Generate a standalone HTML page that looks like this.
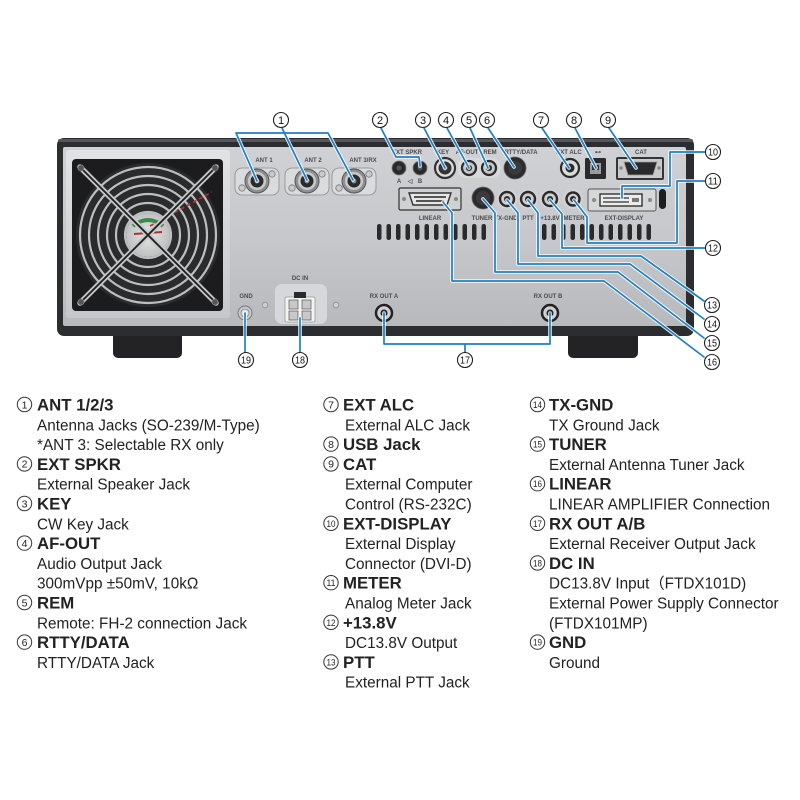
<!DOCTYPE html>
<html><head><meta charset="utf-8"><style>html,body{margin:0;padding:0;background:#fff}svg{display:block}</style></head><body>
<svg width="800" height="800" viewBox="0 0 800 800" xmlns="http://www.w3.org/2000/svg" font-family="'Liberation Sans', Arial, sans-serif">
<defs>
<linearGradient id="panel" x1="0" y1="0" x2="0" y2="1"><stop offset="0" stop-color="#d0d1d4"/><stop offset="0.5" stop-color="#c7c8cb"/><stop offset="1" stop-color="#b8b9bc"/></linearGradient>
<linearGradient id="bevel" x1="0" y1="0" x2="0" y2="1"><stop offset="0" stop-color="#e2e3e5"/><stop offset="1" stop-color="#c6c7ca"/></linearGradient>
<radialGradient id="hub" cx="0.5" cy="0.5" r="0.5"><stop offset="0" stop-color="#e6e6e6"/><stop offset="1" stop-color="#bfc0c0"/></radialGradient>
</defs>
<rect width="800" height="800" fill="#fff"/>

<!-- feet -->
<rect x="113" y="326" width="69" height="32" rx="5" fill="#232325"/>
<rect x="568" y="326" width="70" height="32" rx="5" fill="#232325"/>
<!-- body -->
<rect x="57" y="138" width="637" height="198" rx="7" fill="#2c2d31"/>
<rect x="58" y="139" width="635" height="3" rx="2" fill="#55575c"/>
<rect x="63" y="147" width="623" height="179" rx="2" fill="url(#panel)"/>

<!-- fan -->
<rect x="66" y="150" width="164" height="168" rx="3" fill="url(#bevel)"/>
<rect x="72" y="159" width="151" height="152" rx="4" fill="#1c1c1e"/>
<circle cx="148" cy="235" r="72" fill="#2a2b2d"/>
<g fill="none" stroke="#bdbec0" stroke-width="2.2">
<circle cx="148" cy="235" r="14"/><circle cx="148" cy="235" r="23"/><circle cx="148" cy="235" r="32"/>
<circle cx="148" cy="235" r="41"/><circle cx="148" cy="235" r="50"/><circle cx="148" cy="235" r="59"/>
<circle cx="148" cy="235" r="68"/>
</g>
<circle cx="148" cy="235" r="22" fill="url(#hub)"/>
<path d="M133 226 Q148 214 163 226" stroke="#3a8a4a" stroke-width="4" fill="none"/>
<path d="M134 234 L162 232" stroke="#b03030" stroke-width="2"/>
<line x1="150" y1="226" x2="212" y2="192" stroke="#b03030" stroke-width="1.6" stroke-dasharray="4 3"/>
<g stroke="#c4c5c7" stroke-width="5.5" stroke-linecap="round">
<line x1="80" y1="167" x2="216" y2="303"/><line x1="216" y1="167" x2="80" y2="303"/>
</g>
<g stroke="#1c1c1e" stroke-width="1.8">
<line x1="80" y1="167" x2="216" y2="303"/><line x1="216" y1="167" x2="80" y2="303"/>
</g>
<g fill="#555" stroke="#888" stroke-width="0.8">
<circle cx="81" cy="168" r="3"/><circle cx="215" cy="168" r="3"/><circle cx="81" cy="302" r="3"/><circle cx="215" cy="302" r="3"/>
</g>

<!-- panel labels -->
<g font-size="6" font-weight="bold" fill="#4a4b4e" text-anchor="middle">
<text x="264" y="162">ANT 1</text><text x="313" y="162">ANT 2</text><text x="363" y="162">ANT 3/RX</text>
<text x="407" y="154">EXT SPKR</text><text x="443" y="154">KEY</text><text x="467" y="154">AF-OUT</text>
<text x="490" y="154">REM</text><text x="521" y="154">RTTY/DATA</text><text x="569" y="154">EXT ALC</text>
<text x="598" y="154">⊷</text><text x="641" y="154">CAT</text>
<text x="399" y="183">A</text><text x="410" y="183">◁</text><text x="420" y="183">B</text>
<text x="430" y="220">LINEAR</text><text x="482" y="220">TUNER</text><text x="506" y="220">TX-GND</text>
<text x="528" y="220">PTT</text><text x="550" y="220">+13.8V</text><text x="574" y="220">METER</text>
<text x="624" y="220">EXT-DISPLAY</text>
<text x="300" y="280">DC IN</text><text x="246" y="298">GND</text>
<text x="384" y="298">RX OUT A</text><text x="548" y="298">RX OUT B</text>
</g>

<!-- ANT connectors -->
<g transform="translate(257,181)">
<rect x="-22" y="-13" width="44" height="27" rx="7" fill="#dadbdd" stroke="#8a8b8e" stroke-width="0.8"/>
<circle cx="15" cy="-7" r="3.2" fill="#c9cacc" stroke="#777" stroke-width="0.8"/><circle cx="-15" cy="7" r="3.2" fill="#c9cacc" stroke="#777" stroke-width="0.8"/>
<circle r="12" fill="#8f9093" stroke="#555"/><circle r="9" fill="#c9cacc"/><circle r="6.5" fill="#2b2b2d"/><circle r="2.5" fill="#8a8a78"/>
</g>
<g transform="translate(307,181)">
<rect x="-22" y="-13" width="44" height="27" rx="7" fill="#dadbdd" stroke="#8a8b8e" stroke-width="0.8"/>
<circle cx="15" cy="-7" r="3.2" fill="#c9cacc" stroke="#777" stroke-width="0.8"/><circle cx="-15" cy="7" r="3.2" fill="#c9cacc" stroke="#777" stroke-width="0.8"/>
<circle r="12" fill="#8f9093" stroke="#555"/><circle r="9" fill="#c9cacc"/><circle r="6.5" fill="#2b2b2d"/><circle r="2.5" fill="#8a8a78"/>
</g>
<g transform="translate(354,181)">
<rect x="-22" y="-13" width="44" height="27" rx="7" fill="#dadbdd" stroke="#8a8b8e" stroke-width="0.8"/>
<circle cx="15" cy="-7" r="3.2" fill="#c9cacc" stroke="#777" stroke-width="0.8"/><circle cx="-15" cy="7" r="3.2" fill="#c9cacc" stroke="#777" stroke-width="0.8"/>
<circle r="12" fill="#8f9093" stroke="#555"/><circle r="9" fill="#c9cacc"/><circle r="6.5" fill="#2b2b2d"/><circle r="2.5" fill="#8a8a78"/>
</g>

<!-- row 1 jacks -->
<circle cx="399" cy="168" r="7" fill="#2a2a2c" stroke="#777" stroke-width="0.8"/><circle cx="399" cy="168" r="2.5" fill="#555"/>
<circle cx="420" cy="168" r="7" fill="#2a2a2c" stroke="#777" stroke-width="0.8"/><circle cx="420" cy="168" r="2.5" fill="#555"/>
<circle cx="445" cy="168" r="10" fill="#dcdcdc" stroke="#333" stroke-width="2.2"/><circle cx="445" cy="168" r="6.5" fill="#333"/><circle cx="445" cy="168" r="2.5" fill="#777"/>
<rect x="457" y="158" width="44" height="20" rx="9" fill="#d8d9db"/>
<circle cx="469" cy="168" r="7" fill="#c8c8c8" stroke="#2a2a2a" stroke-width="2.2"/><circle cx="469" cy="168" r="3" fill="#2a2a2a"/>
<circle cx="489" cy="168" r="7" fill="#c8c8c8" stroke="#2a2a2a" stroke-width="2.2"/><circle cx="489" cy="168" r="3" fill="#2a2a2a"/>
<circle cx="515" cy="168" r="11" fill="#2c2c2e" stroke="#666" stroke-width="0.8"/><circle cx="515" cy="168" r="7" fill="#3a3a3c"/>
<circle cx="570" cy="168" r="9" fill="#dcdcdc" stroke="#2a2a2a" stroke-width="2.2"/><circle cx="570" cy="168" r="4.5" fill="#2a2a2a"/>
<rect x="585" y="158" width="21" height="21" rx="1.5" fill="#2a2a2c"/><rect x="590" y="163" width="11" height="11" fill="#9a9b9d"/><rect x="592" y="165" width="7" height="5" fill="#333"/>
<rect x="616" y="157" width="48" height="23" rx="2" fill="#353538"/><rect x="618" y="159" width="44" height="19" fill="#c9cacc"/>
<path d="M624 162 H657 L653 175 H628 Z" fill="#2a2a2c" stroke="#999" stroke-width="0.8"/>
<circle cx="621" cy="168" r="1.8" fill="#888"/><circle cx="659" cy="168" r="1.8" fill="#888"/>

<!-- row 2 -->
<rect x="399" y="188" width="62" height="22" rx="1.5" fill="#d0d1d3" stroke="#333" stroke-width="1.2"/>
<path d="M409 193 H451 L447 205 H413 Z" fill="#e6e6e6" stroke="#333" stroke-width="1.4"/>
<g fill="#555"><rect x="414" y="196" width="32" height="2"/><rect x="416" y="200" width="28" height="2"/></g>
<circle cx="404" cy="199" r="2" fill="#888"/><circle cx="456" cy="199" r="2" fill="#888"/>
<circle cx="483" cy="198" r="11" fill="#2a2a2c" stroke="#666" stroke-width="0.8"/><circle cx="483" cy="198" r="7" fill="#3a3a3c"/>
<g fill="#d2d3d5"><circle cx="507" cy="199" r="10"/><circle cx="528" cy="199" r="10"/><circle cx="550" cy="199" r="10"/><circle cx="573" cy="199" r="10"/></g>
<g fill="#cfcfcf" stroke="#2a2a2a" stroke-width="2.4">
<circle cx="507" cy="199" r="7"/><circle cx="528" cy="199" r="7"/><circle cx="550" cy="199" r="7"/><circle cx="573" cy="199" r="6.5"/>
</g>
<g fill="#2a2a2a"><circle cx="507" cy="199" r="3"/><circle cx="528" cy="199" r="3"/><circle cx="550" cy="199" r="3"/><circle cx="573" cy="199" r="3"/></g>
<rect x="588" y="189" width="68" height="22" rx="2" fill="#d6d7d9" stroke="#555" stroke-width="1"/>
<rect x="600" y="194" width="42" height="12" fill="#ececec" stroke="#333" stroke-width="1.4"/>
<g fill="#777"><rect x="603" y="197" width="26" height="2"/><rect x="603" y="201" width="26" height="2"/><rect x="632" y="198" width="7" height="4"/></g>
<circle cx="594" cy="200" r="2" fill="#888"/><circle cx="650" cy="200" r="2" fill="#888"/>
<rect x="659" y="189" width="7" height="20" rx="3.5" fill="#1e1e20"/>

<!-- vents -->
<g fill="#2a2a2c">
<rect x="377" y="224" width="4.5" height="16" rx="2.2"/><rect x="386.5" y="224" width="4.5" height="16" rx="2.2"/><rect x="396" y="224" width="4.5" height="16" rx="2.2"/><rect x="405.5" y="224" width="4.5" height="16" rx="2.2"/><rect x="415" y="224" width="4.5" height="16" rx="2.2"/><rect x="424.5" y="224" width="4.5" height="16" rx="2.2"/><rect x="434" y="224" width="4.5" height="16" rx="2.2"/><rect x="443.5" y="224" width="4.5" height="16" rx="2.2"/><rect x="453" y="224" width="4.5" height="16" rx="2.2"/><rect x="462.5" y="224" width="4.5" height="16" rx="2.2"/><rect x="472" y="224" width="4.5" height="16" rx="2.2"/><rect x="481.5" y="224" width="4.5" height="16" rx="2.2"/>
<rect x="542" y="224" width="4.5" height="16" rx="2.2"/><rect x="551.5" y="224" width="4.5" height="16" rx="2.2"/><rect x="561" y="224" width="4.5" height="16" rx="2.2"/><rect x="570.5" y="224" width="4.5" height="16" rx="2.2"/><rect x="580" y="224" width="4.5" height="16" rx="2.2"/><rect x="589.5" y="224" width="4.5" height="16" rx="2.2"/><rect x="599" y="224" width="4.5" height="16" rx="2.2"/><rect x="608.5" y="224" width="4.5" height="16" rx="2.2"/><rect x="618" y="224" width="4.5" height="16" rx="2.2"/><rect x="627.5" y="224" width="4.5" height="16" rx="2.2"/><rect x="637" y="224" width="4.5" height="16" rx="2.2"/><rect x="646.5" y="224" width="4.5" height="16" rx="2.2"/>
</g>

<!-- bottom connectors -->
<rect x="275" y="284" width="52" height="40" rx="7" fill="#d6d7da"/>
<rect x="285" y="297" width="30" height="25" rx="1.5" fill="#f3f3f3" stroke="#999" stroke-width="0.8"/>
<rect x="294" y="292" width="12" height="6" fill="#2a2a2a"/>
<g fill="#c8c8c8" stroke="#555" stroke-width="0.7"><rect x="289" y="300" width="9" height="9"/><rect x="302" y="300" width="9" height="9"/><rect x="289" y="311" width="9" height="9"/><rect x="302" y="311" width="9" height="9"/></g>
<circle cx="265" cy="305" r="2.8" fill="#d0d0d0" stroke="#888" stroke-width="0.8"/><circle cx="336" cy="305" r="2.8" fill="#d0d0d0" stroke="#888" stroke-width="0.8"/>
<circle cx="245" cy="313" r="7" fill="#c9c9c9" stroke="#777" stroke-width="1"/><circle cx="245" cy="313" r="4" fill="#e0e0e0" stroke="#888" stroke-width="0.8"/>
<circle cx="384" cy="313" r="8" fill="#d0d0d0" stroke="#222" stroke-width="2.5"/><circle cx="384" cy="313" r="3.5" fill="#222"/>
<circle cx="550" cy="313" r="8" fill="#d0d0d0" stroke="#222" stroke-width="2.5"/><circle cx="550" cy="313" r="3.5" fill="#222"/>

<!-- leader lines -->
<g fill="none" stroke-linejoin="round" stroke-linecap="round">
<g stroke="#ffffff" stroke-width="3.6" opacity="0.9">
<polyline points="257,181 236,133 328,133 353,180"/><polyline points="282,128 307,180"/>
<polyline points="381,128 396,157 419,157 420,166"/>
<polyline points="424,128 445,168"/><polyline points="447,128 469,168"/><polyline points="470,128 488,168"/>
<polyline points="488,128 514,167"/><polyline points="542,128 569,168"/><polyline points="575,128 596,168"/><polyline points="609,128 636,168"/>
<polyline points="705,152 670,152 670,186 622,186 622,198"/>
<polyline points="705,181 677,181 677,243 587,243 587,217 574,200"/>
<polyline points="705,248 562,248 562,214 550,200"/>
<polyline points="704,301 641,256 538,256 538,213 528,200"/>
<polyline points="704,319 630,264 518,264 518,213 507,200"/>
<polyline points="704,338 618,272 495,272 495,213 483,199"/>
<polyline points="704,357 604,281 452,281 452,213 443,202"/>
<polyline points="384,313 384,344 550,344 550,313"/><polyline points="465,344 465,352"/>
<polyline points="300,318 300,352"/><polyline points="245,313 245,352"/>
</g>
<g stroke="#1f7fc4" stroke-width="1.7">
<polyline points="257,181 236,133 328,133 353,180"/><polyline points="282,128 307,180"/>
<polyline points="381,128 396,157 419,157 420,166"/>
<polyline points="424,128 445,168"/><polyline points="447,128 469,168"/><polyline points="470,128 488,168"/>
<polyline points="488,128 514,167"/><polyline points="542,128 569,168"/><polyline points="575,128 596,168"/><polyline points="609,128 636,168"/>
<polyline points="705,152 670,152 670,186 622,186 622,198"/>
<polyline points="705,181 677,181 677,243 587,243 587,217 574,200"/>
<polyline points="705,248 562,248 562,214 550,200"/>
<polyline points="704,301 641,256 538,256 538,213 528,200"/>
<polyline points="704,319 630,264 518,264 518,213 507,200"/>
<polyline points="704,338 618,272 495,272 495,213 483,199"/>
<polyline points="704,357 604,281 452,281 452,213 443,202"/>
<polyline points="384,313 384,344 550,344 550,313"/><polyline points="465,344 465,352"/>
<polyline points="300,318 300,352"/><polyline points="245,313 245,352"/>
</g>
</g>

<!-- callout circles -->
<g fill="#fff" stroke="#222" stroke-width="1.1">
<circle cx="281" cy="120" r="7.5"/><circle cx="380" cy="120" r="7.5"/><circle cx="423" cy="120" r="7.5"/>
<circle cx="446" cy="120" r="7.5"/><circle cx="469" cy="120" r="7.5"/><circle cx="487" cy="120" r="7.5"/>
<circle cx="541" cy="120" r="7.5"/><circle cx="574" cy="120" r="7.5"/><circle cx="608" cy="120" r="7.5"/>
<circle cx="713" cy="152" r="7.5"/><circle cx="713" cy="181" r="7.5"/><circle cx="713" cy="248" r="7.5"/>
<circle cx="712" cy="305" r="7.5"/><circle cx="712" cy="324" r="7.5"/><circle cx="712" cy="343" r="7.5"/>
<circle cx="712" cy="362" r="7.5"/><circle cx="465" cy="360" r="7.5"/><circle cx="300" cy="360" r="7.5"/>
<circle cx="246" cy="360" r="7.5"/>
</g>
<g font-size="11" fill="#111" text-anchor="middle">
<text x="281" y="124">1</text><text x="380" y="124">2</text><text x="423" y="124">3</text>
<text x="446" y="124">4</text><text x="469" y="124">5</text><text x="487" y="124">6</text>
<text x="541" y="124">7</text><text x="574" y="124">8</text><text x="608" y="124">9</text>
</g>
<g font-size="10" fill="#111">
<text x="708" y="155.5" textLength="10" lengthAdjust="spacingAndGlyphs">10</text>
<text x="708" y="184.5" textLength="10" lengthAdjust="spacingAndGlyphs">11</text>
<text x="708" y="251.5" textLength="10" lengthAdjust="spacingAndGlyphs">12</text>
<text x="707" y="308.5" textLength="10" lengthAdjust="spacingAndGlyphs">13</text>
<text x="707" y="327.5" textLength="10" lengthAdjust="spacingAndGlyphs">14</text>
<text x="707" y="346.5" textLength="10" lengthAdjust="spacingAndGlyphs">15</text>
<text x="707" y="365.5" textLength="10" lengthAdjust="spacingAndGlyphs">16</text>
<text x="460" y="363.5" textLength="10" lengthAdjust="spacingAndGlyphs">17</text>
<text x="295" y="363.5" textLength="10" lengthAdjust="spacingAndGlyphs">18</text>
<text x="241" y="363.5" textLength="10" lengthAdjust="spacingAndGlyphs">19</text>
</g>

<!-- legend circles -->
<g fill="#fff" stroke="#333" stroke-width="1">
<circle cx="24.5" cy="404.5" r="7.2"/><circle cx="24.5" cy="463.9" r="7.2"/><circle cx="24.5" cy="503.5" r="7.2"/>
<circle cx="24.5" cy="543.1" r="7.2"/><circle cx="24.5" cy="602.5" r="7.2"/><circle cx="24.5" cy="642.1" r="7.2"/>
<circle cx="331" cy="404.5" r="7.2"/><circle cx="331" cy="444.1" r="7.2"/><circle cx="331" cy="463.9" r="7.2"/>
<circle cx="331" cy="523.3" r="7.2"/><circle cx="331" cy="582.7" r="7.2"/><circle cx="331" cy="622.3" r="7.2"/>
<circle cx="331" cy="661.9" r="7.2"/>
<circle cx="537.5" cy="404.5" r="7.2"/><circle cx="537.5" cy="444.1" r="7.2"/><circle cx="537.5" cy="483.7" r="7.2"/>
<circle cx="537.5" cy="523.3" r="7.2"/><circle cx="537.5" cy="562.9" r="7.2"/><circle cx="537.5" cy="642.1" r="7.2"/>
</g>
<g font-size="10.5" fill="#222" text-anchor="middle">
<text x="24.5" y="408.3">1</text><text x="24.5" y="467.7">2</text><text x="24.5" y="507.3">3</text>
<text x="24.5" y="546.9">4</text><text x="24.5" y="606.3">5</text><text x="24.5" y="645.9">6</text>
<text x="331" y="408.3">7</text><text x="331" y="447.9">8</text><text x="331" y="467.7">9</text>
</g>
<g font-size="9.5" fill="#222">
<text x="326.5" y="526.8" textLength="9" lengthAdjust="spacingAndGlyphs">10</text>
<text x="326.5" y="586.2" textLength="9" lengthAdjust="spacingAndGlyphs">11</text>
<text x="326.5" y="625.8" textLength="9" lengthAdjust="spacingAndGlyphs">12</text>
<text x="326.5" y="665.4" textLength="9" lengthAdjust="spacingAndGlyphs">13</text>
<text x="533" y="408" textLength="9" lengthAdjust="spacingAndGlyphs">14</text>
<text x="533" y="447.6" textLength="9" lengthAdjust="spacingAndGlyphs">15</text>
<text x="533" y="487.2" textLength="9" lengthAdjust="spacingAndGlyphs">16</text>
<text x="533" y="526.8" textLength="9" lengthAdjust="spacingAndGlyphs">17</text>
<text x="533" y="566.4" textLength="9" lengthAdjust="spacingAndGlyphs">18</text>
<text x="533" y="645.6" textLength="9" lengthAdjust="spacingAndGlyphs">19</text>
</g>

<!-- legend text -->
<g fill="#222" font-size="15.3">
<g font-weight="bold" font-size="16.8">
<text x="37" y="410.5">ANT 1/2/3</text>
<text x="37" y="469.9">EXT SPKR</text>
<text x="37" y="509.5">KEY</text>
<text x="37" y="549.1">AF-OUT</text>
<text x="37" y="608.5">REM</text>
<text x="37" y="648.1">RTTY/DATA</text>
<text x="343" y="410.5">EXT ALC</text>
<text x="343" y="450.1">USB Jack</text>
<text x="343" y="469.9">CAT</text>
<text x="343" y="529.3">EXT-DISPLAY</text>
<text x="343" y="588.7">METER</text>
<text x="343" y="628.3">+13.8V</text>
<text x="343" y="667.9">PTT</text>
<text x="549" y="410.5">TX-GND</text>
<text x="549" y="450.1">TUNER</text>
<text x="549" y="489.7">LINEAR</text>
<text x="549" y="529.3">RX OUT A/B</text>
<text x="549" y="568.9">DC IN</text>
<text x="549" y="648.1">GND</text>
</g>
<text x="37" y="430.3">Antenna Jacks (SO-239/M-Type)</text>
<text x="37" y="450.1">*ANT 3: Selectable RX only</text>
<text x="37" y="489.7">External Speaker Jack</text>
<text x="37" y="529.3">CW Key Jack</text>
<text x="37" y="568.9">Audio Output Jack</text>
<text x="37" y="588.7">300mVpp ±50mV, 10kΩ</text>
<text x="37" y="628.3">Remote: FH-2 connection Jack</text>
<text x="37" y="667.9">RTTY/DATA Jack</text>
<text x="345" y="430.3">External ALC Jack</text>
<text x="345" y="489.7">External Computer</text>
<text x="345" y="509.5">Control (RS-232C)</text>
<text x="345" y="549.1">External Display</text>
<text x="345" y="568.9">Connector (DVI-D)</text>
<text x="345" y="608.5">Analog Meter Jack</text>
<text x="345" y="648.1">DC13.8V Output</text>
<text x="345" y="687.7">External PTT Jack</text>
<text x="549" y="430.3">TX Ground Jack</text>
<text x="549" y="469.9">External Antenna Tuner Jack</text>
<text x="549" y="509.5">LINEAR AMPLIFIER Connection</text>
<text x="549" y="549.1">External Receiver Output Jack</text>
<text x="549" y="588.7" font-family="'Liberation Sans', 'Noto Sans CJK JP', sans-serif">DC13.8V Input（FTDX101D)</text>
<text x="549" y="608.5">External Power Supply Connector</text>
<text x="549" y="628.3">(FTDX101MP)</text>
<text x="549" y="667.9">Ground</text>
</g>
</svg>
</body></html>
